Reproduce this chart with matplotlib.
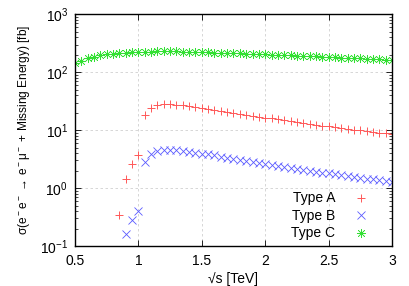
import matplotlib
matplotlib.use('Agg')
import matplotlib.pyplot as plt
import numpy as np

plt.rcParams['font.family'] = ['Liberation Sans', 'DejaVu Sans']
plt.rcParams['mathtext.fontset'] = 'custom'
plt.rcParams['mathtext.rm'] = 'Liberation Sans'

# sqrt(s) in TeV, 0.05 steps
sqrt_s_a = [0.85, 0.90, 0.95, 1.00, 1.05, 1.10, 1.15, 1.20, 1.25, 1.30, 1.35,
            1.40, 1.45, 1.50, 1.55, 1.60, 1.65, 1.70, 1.75, 1.80, 1.85, 1.90,
            1.95, 2.00, 2.05, 2.10, 2.15, 2.20, 2.25, 2.30, 2.35, 2.40, 2.45,
            2.50, 2.55, 2.60, 2.65, 2.70, 2.75, 2.80, 2.85, 2.90, 2.95, 3.00]
xsec_a = [0.34, 1.45, 2.6, 3.7, 18.0, 24.5, 26.8, 27.8, 28.0, 27.5, 26.8,
          26.0, 25.0, 24.0, 23.1, 22.2, 21.4, 20.6, 19.8, 19.1, 18.4, 17.7,
          17.1, 16.5, 15.9, 15.3, 14.8, 14.3, 13.8, 13.3, 12.9, 12.4, 12.0,
          11.6, 11.2, 10.9, 10.5, 10.2, 9.9, 9.6, 9.3, 9.1, 8.9, 8.7]

sqrt_s_b = [0.90, 0.95, 1.00, 1.05, 1.10, 1.15, 1.20, 1.25, 1.30, 1.35, 1.40,
            1.45, 1.50, 1.55, 1.60, 1.65, 1.70, 1.75, 1.80, 1.85, 1.90, 1.95,
            2.00, 2.05, 2.10, 2.15, 2.20, 2.25, 2.30, 2.35, 2.40, 2.45, 2.50,
            2.55, 2.60, 2.65, 2.70, 2.75, 2.80, 2.85, 2.90, 2.95, 3.00]
xsec_b = [0.16, 0.28, 0.40, 2.85, 3.9, 4.3, 4.5, 4.55, 4.5, 4.4, 4.25,
          4.1, 3.95, 3.8, 3.65, 3.5, 3.35, 3.2, 3.07, 2.95, 2.83, 2.72,
          2.61, 2.51, 2.41, 2.32, 2.23, 2.15, 2.07, 1.99, 1.92, 1.85, 1.79,
          1.73, 1.67, 1.61, 1.56, 1.51, 1.46, 1.42, 1.37, 1.33, 1.29]

sqrt_s_c = [0.50, 0.55, 0.60, 0.65, 0.70, 0.75, 0.80, 0.85, 0.90, 0.95, 1.00,
            1.05, 1.10, 1.15, 1.20, 1.25, 1.30, 1.35, 1.40, 1.45, 1.50, 1.55,
            1.60, 1.65, 1.70, 1.75, 1.80, 1.85, 1.90, 1.95, 2.00, 2.05, 2.10,
            2.15, 2.20, 2.25, 2.30, 2.35, 2.40, 2.45, 2.50, 2.55, 2.60, 2.65,
            2.70, 2.75, 2.80, 2.85, 2.90, 2.95, 3.00]
xsec_c = [143, 158, 173, 186, 196, 204, 210, 215, 219, 222, 224,
          226, 227, 228, 228, 228, 228, 227, 226, 225, 223, 221,
          219, 217, 215, 213, 211, 209, 207, 205, 203, 201, 199,
          197, 195, 193, 191, 189, 187, 185, 183, 181, 179, 177,
          175, 173, 171, 169, 167, 165, 163]

fig = plt.figure(figsize=(4.09, 2.86), dpi=100)
ax = fig.add_axes([0.1834, 0.1399, 0.7750, 0.8101])

ax.plot(sqrt_s_a, xsec_a, linestyle='none', marker='+', markersize=6,
        markeredgewidth=0.7, color='#ff5858', label='Type A')
ax.plot(sqrt_s_b, xsec_b, linestyle='none', marker='x', markersize=5.5,
        markeredgewidth=0.6, color='#5a5aff', label='Type B')
ax.plot(sqrt_s_c, xsec_c, linestyle='none', marker=(8, 2, 0), markersize=6.5,
        markeredgewidth=0.45, color='#33e033', label='Type C')

ax.set_yscale('log')
ax.set_xlim(0.5, 3.0)
ax.set_ylim(0.1, 1000)
ax.set_xticks([0.5, 1, 1.5, 2, 2.5, 3])
ax.set_xticklabels(['0.5', '1', '1.5', '2', '2.5', '3'])

ax.grid(True, which='major', linestyle=(0, (3, 3)), color='#d0d0d0', linewidth=0.6)
ax.tick_params(which='both', direction='in', top=True, right=True, labelsize=10)
ax.tick_params(axis='x', pad=6)
ax.tick_params(axis='y', pad=5)
ax.tick_params(which='major', length=4, width=0.6)
ax.tick_params(which='minor', length=2, width=0.5)
for s in ax.spines.values():
    s.set_linewidth(1.0)

ax.set_xlabel('√s [TeV]', fontsize=10, labelpad=3)
ax.set_ylabel(r'σ(e$^-$e$^-$ → e$^-$μ$^-$ + Missing Energy) [fb]', fontsize=8.6, labelpad=6)

ax.legend(loc='lower right', bbox_to_anchor=(0.965, 0.0), frameon=False,
          markerfirst=False, fontsize=10, handletextpad=0.9, labelspacing=0.25,
          borderaxespad=0.0)

fig.savefig('out.png', dpi=100)
